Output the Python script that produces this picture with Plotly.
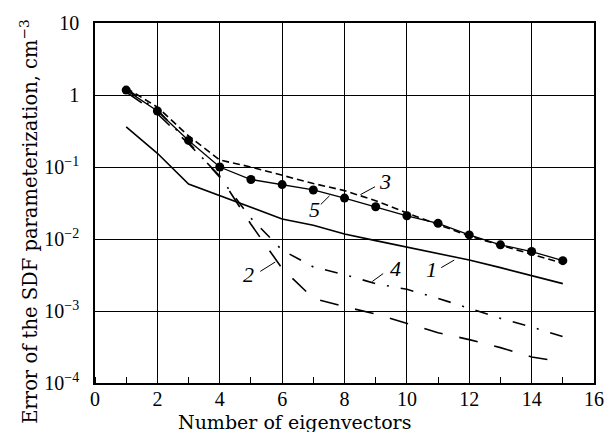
import plotly.graph_objects as go
import math

x_vals = list(range(1, 16))
curve1 = [0.36, 0.155, 0.058, 0.040, 0.0275, 0.019, 0.0155, 0.0117, 0.0095, 0.0077, 0.0063, 0.0051, 0.0040, 0.0031, 0.0024]
curve2 = [1.10, 0.55, 0.21, 0.075, 0.016, 0.0039, 0.0015, 0.00115, 0.00091, 0.00068, 0.00050, 0.00040, 0.00031, 0.00023, 0.000195]
curve3 = [1.25, 0.68, 0.27, 0.125, 0.100, 0.076, 0.059, 0.047, 0.034, 0.023, 0.016, 0.011, 0.0082, 0.0062, 0.0046]
curve4 = [1.22, 0.62, 0.22, 0.072, 0.0195, 0.0070, 0.0041, 0.0032, 0.0024, 0.0020, 0.0015, 0.0011, 0.00079, 0.00060, 0.00044]
curve5 = [1.17, 0.60, 0.234, 0.100, 0.067, 0.057, 0.048, 0.037, 0.028, 0.021, 0.0165, 0.0114, 0.0083, 0.0067, 0.0050]

y_tickvals = [1e-4, 1e-3, 1e-2, 1e-1, 1, 10]
y_ticktext = ["10<sup>−4</sup>", "10<sup>−3</sup>", "10<sup>−2</sup>", "10<sup>−1</sup>", "1", "10"]
x_tickvals = [0, 2, 4, 6, 8, 10, 12, 14, 16]

# curve labels: (text, text_x, text_y, leader start x, y, leader end x, y)
labels = [
    ("3", 9.30, 0.062, 8.51, 0.0413, 8.98, 0.0532),
    ("5", 7.05, 0.0255, 7.24, 0.0302, 7.52, 0.0398),
    ("2", 4.92, 0.0032, 5.30, 0.00355, 5.78, 0.00479),
    ("4", 9.62, 0.0039, 8.89, 0.00257, 9.24, 0.00331),
    ("1", 10.80, 0.0038, 11.10, 0.0040, 11.52, 0.0051),
]

serif = "Liberation Serif, Times New Roman, serif"
wide_serif = "DejaVu Serif, serif"

fig = go.Figure()
line_w = 1.6
fig.add_trace(go.Scatter(x=x_vals, y=curve1, mode="lines",
                         line=dict(color="black", width=line_w)))
fig.add_trace(go.Scatter(x=x_vals, y=curve2, mode="lines",
                         line=dict(color="black", width=line_w, dash="19px,17px")))
fig.add_trace(go.Scatter(x=x_vals, y=curve3, mode="lines",
                         line=dict(color="black", width=line_w, dash="7px,4px")))
fig.add_trace(go.Scatter(x=x_vals, y=curve4, mode="lines",
                         line=dict(color="black", width=line_w, dash="13px,12px,2px,12px")))
fig.add_trace(go.Scatter(x=x_vals, y=curve5, mode="lines+markers",
                         line=dict(color="black", width=1.3),
                         marker=dict(color="black", size=9)))

annotations = []
shapes = []
for txt, tx, ty, x0, y0, x1, y1 in labels:
    annotations.append(dict(x=tx, y=math.log10(ty), xref="x", yref="y", text="<i>" + txt + "</i>",
                            showarrow=False, font=dict(family=serif, size=22, color="black"),
                            xanchor="center", yanchor="middle"))
    shapes.append(dict(type="line", xref="x", yref="y", x0=x0, y0=y0, x1=x1, y1=y1,
                       line=dict(color="black", width=1)))

annotations.append(dict(x=-67 / 504, y=0.447, xref="paper", yref="paper",
                        text="Error of the SDF parameterization, cm<sup>−3</sup>",
                        textangle=-90, showarrow=False,
                        font=dict(family=wide_serif, size=19.5, color="black"),
                        xanchor="center", yanchor="middle"))
annotations.append(dict(x=0.40, y=-0.142, xref="paper", yref="paper",
                        text="Number of eigenvectors", showarrow=False,
                        font=dict(family=wide_serif, size=19, color="black"),
                        xanchor="center", yanchor="bottom", borderpad=0))

fig.update_layout(
    width=616, height=432,
    margin=dict(l=95, r=17, t=18, b=49),
    paper_bgcolor="white", plot_bgcolor="white",
    showlegend=False,
    font=dict(family=serif, size=20, color="black"),
    annotations=annotations,
    shapes=shapes,
    xaxis=dict(range=[0, 16], tickvals=x_tickvals, showgrid=True, gridcolor="black", gridwidth=1,
               showline=True, linecolor="black", linewidth=1.5, mirror=True,
               ticks="", ticklen=0, zeroline=False, ticklabelstandoff=-3,
               minor=dict(dtick=1, ticks="inside", ticklen=6, tickcolor="black", showgrid=False),
               tickfont=dict(family=serif, size=20)),
    yaxis=dict(type="log", range=[-4, 1], tickvals=y_tickvals, ticktext=y_ticktext,
               showgrid=True, gridcolor="black", gridwidth=1,
               showline=True, linecolor="black", linewidth=1.5, mirror=True,
               ticks="", ticklen=0, zeroline=False, ticklabelstandoff=10,
               tickfont=dict(family=serif, size=20)),
)

fig.write_html("out.html", config={"displayModeBar": False},
               post_script="document.body.style.margin='0';document.body.style.overflow='hidden';")
